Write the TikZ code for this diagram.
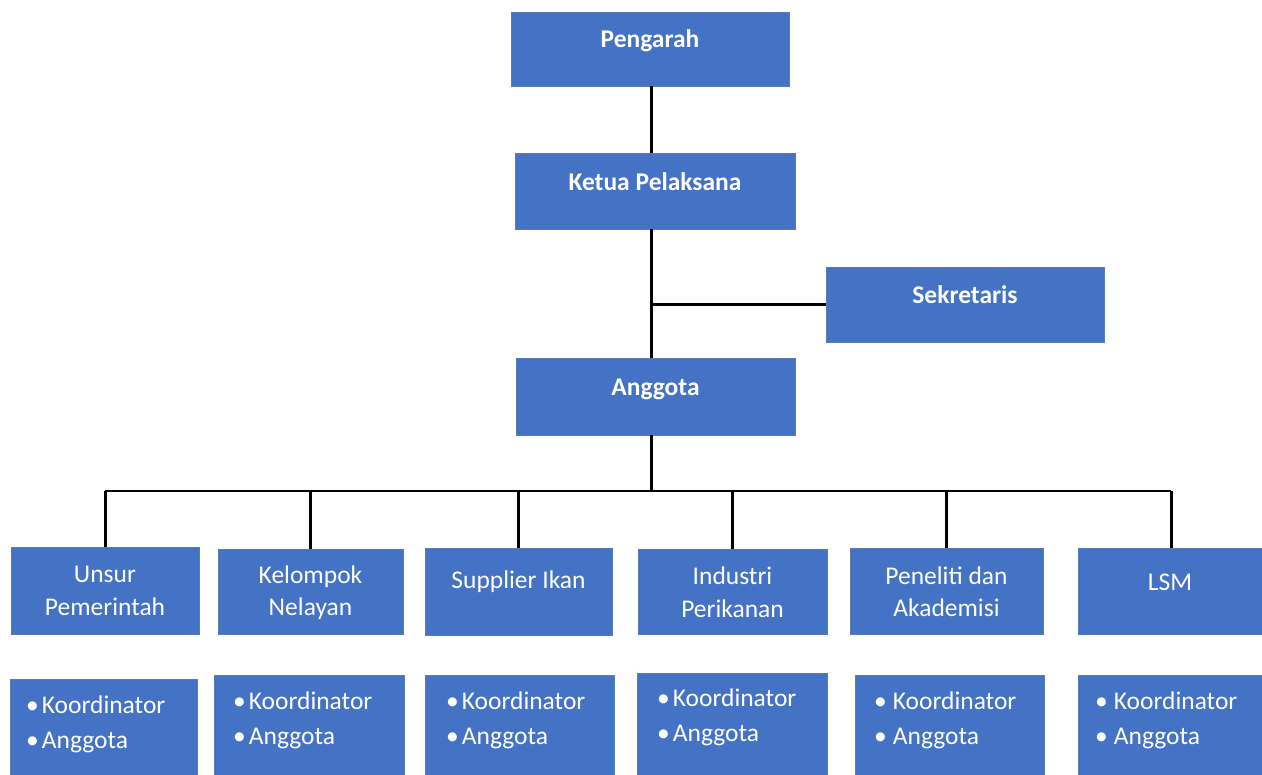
\documentclass[tikz,border=0pt]{standalone}
\usepackage{fontspec}
\setmainfont{Carlito}
\usetikzlibrary{calc}
\definecolor{boxblue}{HTML}{4472C4}
\definecolor{boxedge}{HTML}{5A7AB8}
\begin{document}
\begin{tikzpicture}[x=1pt,y=-1pt,
  box/.style={rectangle,fill=boxblue,draw=boxedge,line width=0.8pt,inner sep=0pt},
  toplbl/.style={text=white,font=\fontsize{25.5}{30}\selectfont\bfseries,inner sep=0pt,text height=18pt,text depth=5pt},
  midlbl/.style={text=white,font=\fontsize{25.5}{32.5}\selectfont,align=center,inner sep=0pt},
  itemlbl/.style={text=white,font=\fontsize{25.5}{35}\selectfont,align=left,inner sep=0pt,anchor=west},
  conn/.style={line width=3pt,black},
  busline/.style={line width=2.2pt,black}]
\useasboundingbox (0,0) rectangle (1262,775);
% top column
\node[box,minimum width=278pt,minimum height=74pt] (peng) at (650,49) {};
\node[toplbl] at ($(peng.north)+(0,29)$) {Pengarah};
\node[box,minimum width=280pt,minimum height=76pt] (ketua) at (655,191) {};
\node[toplbl] at ($(ketua.north)+(0,31)$) {Ketua Pelaksana};
\node[box,minimum width=278pt,minimum height=75pt] (sek) at (965,304.5) {};
\node[toplbl] at ($(sek.north)+(0,30)$) {Sekretaris};
\node[box,minimum width=279pt,minimum height=77pt] (ang) at (655.5,396.5) {};
\node[toplbl] at ($(ang.north)+(0,31)$) {Anggota};
\coordinate (bus) at (651,491);
% connectors top
\draw[conn] (peng.south -| bus) -- (ketua.north -| bus);
\draw[conn] (ketua.south -| bus) -- (ang.north -| bus);
\draw[conn] (sek.west -| bus) -- (sek.west);
\draw[conn] (ang.south -| bus) -- (bus);
% row 2
\node[box,minimum width=188pt,minimum height=87pt] (u1) at (105,590.5) {};
\node[box,minimum width=185pt,minimum height=85pt] (u2) at (310.5,591.5) {};
\node[box,minimum width=187pt,minimum height=87pt] (u3) at (518.5,591.5) {};
\node[box,minimum width=189pt,minimum height=85pt] (u4) at (732.5,591.5) {};
\node[box,minimum width=193pt,minimum height=86pt] (u5) at (946.5,591) {};
\node[box,minimum width=186pt,minimum height=86pt] (u6) at (1171,591) {};
\node[midlbl] at (105,591) {Unsur\\Pemerintah};
\node[midlbl] at (310.5,592.5) {Kelompok\\Nelayan};
\node[midlbl] at (518.5,582) {Supplier Ikan};
\node[midlbl] at (732.5,592) {Industri\\Perikanan};
\node[midlbl] at (946.5,591.5) {Peneliti dan\\Akademisi};
\node[midlbl] at (1170,582) {LSM};
% bus and drops
\draw[busline] (u1.north |- bus) -- (u6.north |- bus);
\foreach \n in {u1,u2,u3,u4,u5,u6}
  \draw[conn] (\n.north |- bus) -- (\n.north);
% row 3
\node[box,minimum width=187pt,minimum height=101pt] (k1) at (103.5,729.5) {};
\node[box,minimum width=190pt,minimum height=105pt] (k2) at (309,727.5) {};
\node[box,minimum width=189pt,minimum height=105pt] (k3) at (519.5,727.5) {};
\node[box,minimum width=190pt,minimum height=107pt] (k4) at (732,726.5) {};
\node[box,minimum width=189pt,minimum height=105pt] (k5) at (950,727.5) {};
\node[box,minimum width=186pt,minimum height=105pt] (k6) at (1171,727.5) {};
\node[itemlbl] at (26,724.5) {•\hspace{3pt}Koordinator\\•\hspace{3pt}Anggota};
\node[itemlbl] at (233,720.5) {•\hspace{3pt}Koordinator\\•\hspace{3pt}Anggota};
\node[itemlbl] at (446,720.5) {•\hspace{3pt}Koordinator\\•\hspace{3pt}Anggota};
\node[itemlbl] at (657,717.5) {•\hspace{3pt}Koordinator\\•\hspace{3pt}Anggota};
\node[itemlbl] at (874,720.5) {•\hspace{6pt}Koordinator\\•\hspace{6pt}Anggota};
\node[itemlbl] at (1095,720.5) {•\hspace{6pt}Koordinator\\•\hspace{6pt}Anggota};
\end{tikzpicture}
\end{document}
